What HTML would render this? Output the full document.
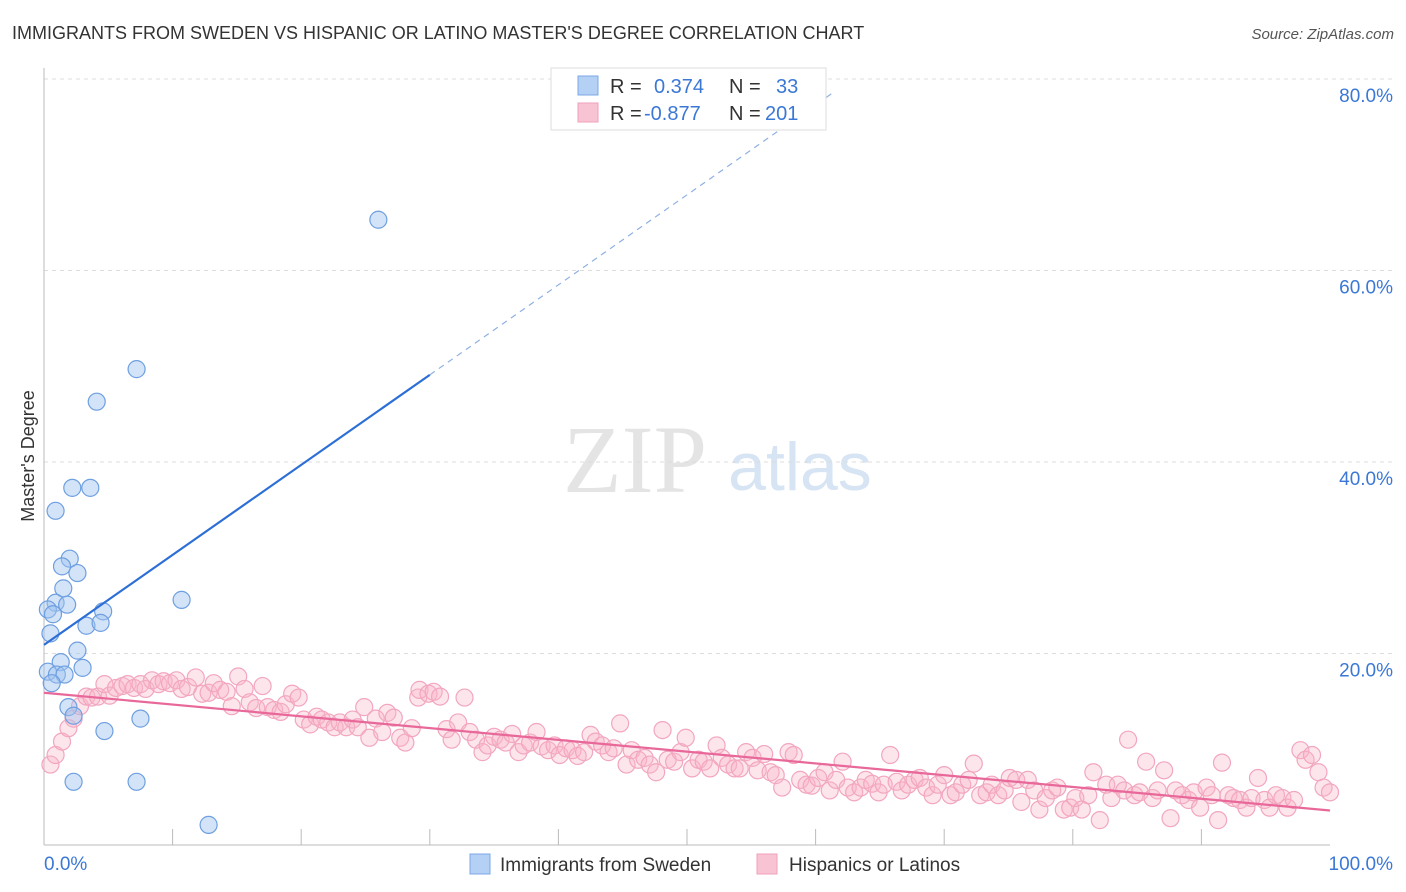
<!DOCTYPE html>
<html><head><meta charset="utf-8"><style>
body{margin:0;background:#fff;font-family:"Liberation Sans",sans-serif}
#wrap{position:relative;width:1406px;height:892px;overflow:hidden}
</style></head><body>
<div id="wrap">
<svg id="svg" width="1406" height="892" xmlns="http://www.w3.org/2000/svg">
<text x="12" y="39" font-size="18" fill="#333">IMMIGRANTS FROM SWEDEN VS HISPANIC OR LATINO MASTER'S DEGREE CORRELATION CHART</text>
<text x="1394" y="39" font-size="15" fill="#555" text-anchor="end" font-style="italic">Source: ZipAtlas.com</text>
<text x="635" y="492" font-size="96" fill="#e4e4e4" font-family="Liberation Serif" text-anchor="middle">ZIP</text>
<text x="800" y="490" font-size="68" fill="#d6e4f3" text-anchor="middle">atlas</text>
<text transform="translate(34,456) rotate(-90)" font-size="18" fill="#333" text-anchor="middle">Master's Degree</text>
<g id="grid"></g><g id="marks"></g>
<g>
<rect x="551" y="68" width="275" height="62" fill="#fff" stroke="#ddd"/>
<rect x="578" y="76" width="20" height="19" fill="#b5d0f5" stroke="#7aa9e6"/>
<rect x="578" y="103" width="20" height="19" fill="#f8c3d3" stroke="#f0a0bb"/>
<text x="610" y="93" font-size="20" fill="#333">R =</text><text x="654" y="93" font-size="20" fill="#3b78d6">0.374</text>
<text x="729" y="93" font-size="20" fill="#333">N =</text><text x="776" y="93" font-size="20" fill="#3b78d6">33</text>
<text x="610" y="120" font-size="20" fill="#333">R =</text><text x="644" y="120" font-size="20" fill="#3b78d6">-0.877</text>
<text x="729" y="120" font-size="20" fill="#333">N =</text><text x="765" y="120" font-size="20" fill="#3b78d6">201</text>
</g>
<g>
<rect x="470" y="854" width="20" height="20" fill="#b5d0f5" stroke="#7aa9e6"/>
<text x="500" y="871" font-size="19" fill="#333">Immigrants from Sweden</text>
<rect x="757" y="854" width="20" height="20" fill="#f8c3d3" stroke="#f0a0bb"/>
<text x="789" y="871" font-size="19" fill="#333">Hispanics or Latinos</text>
</g>
</svg></div>
<script>
const blueX=[26.0,7.2,4.1,2.2,3.6,0.9,2.0,1.4,2.6,1.5,0.9,1.8,0.3,0.7,4.6,10.7,3.3,4.4,0.5,2.6,1.3,3.0,0.3,1.0,1.6,0.6,1.9,2.3,7.5,4.7,2.3,7.2,12.8];
const blueY=[65.3,49.7,46.3,37.3,37.3,34.9,29.9,29.1,28.4,26.8,25.3,25.1,24.6,24.1,24.4,25.6,22.9,23.2,22.1,20.3,19.1,18.5,18.1,17.8,17.8,16.9,14.4,13.5,13.2,11.9,6.6,6.6,2.1];
const pinkX=[0.5,0.9,1.4,1.9,2.3,2.8,3.3,3.7,4.2,4.7,5.1,5.6,6.1,6.5,7.0,7.5,7.9,8.4,8.9,9.3,9.8,10.3,10.7,11.2,11.8,12.3,12.8,13.2,13.7,14.2,14.6,15.1,15.6,16.0,16.5,17.0,17.4,17.9,18.4,18.8,19.3,19.8,20.2,20.7,21.2,21.6,22.1,22.6,23.0,23.5,24.0,24.4,24.9,25.3,25.8,26.3,26.7,27.2,27.7,28.1,28.6,29.1,29.2,29.9,30.3,30.8,31.3,31.7,32.2,32.7,33.1,33.6,34.1,34.5,35.0,35.5,35.9,36.4,36.9,37.3,37.8,38.3,38.7,39.2,39.7,40.1,40.6,41.1,41.5,42.0,42.5,42.9,43.4,43.9,44.3,44.8,45.3,45.7,46.2,46.7,47.1,47.6,48.1,48.5,49.0,49.5,49.9,50.4,50.9,51.3,51.8,52.3,52.7,53.2,53.7,54.1,54.6,55.1,55.5,56.0,56.5,56.9,57.4,57.9,58.3,58.8,59.3,59.7,60.2,60.7,61.1,61.6,62.1,62.5,63.0,63.5,63.9,64.4,64.9,65.3,65.8,66.3,66.7,67.2,67.7,68.1,68.6,69.1,69.5,70.0,70.5,70.9,71.4,71.9,72.3,72.8,73.3,73.7,74.2,74.7,75.1,75.6,76.0,76.5,77.0,77.4,77.9,78.4,78.8,79.3,79.8,80.2,80.7,81.2,81.6,82.1,82.6,83.0,83.5,84.0,84.3,84.8,85.2,85.7,86.2,86.6,87.1,87.6,88.0,88.5,89.0,89.4,89.9,90.4,90.8,91.3,91.6,92.1,92.5,93.0,93.5,93.9,94.4,94.9,95.3,95.8,96.3,96.7,97.2,97.7,98.1,98.6,99.1,99.5,100];
const pinkY=[8.4,9.4,10.8,12.2,13.2,14.5,15.5,15.4,15.5,16.8,15.6,16.4,16.6,16.8,16.4,16.8,16.3,17.2,16.8,17.1,16.9,17.2,16.3,16.5,17.5,15.8,15.9,16.9,16.2,16.0,14.5,17.6,16.3,14.9,14.3,16.6,14.4,14.1,13.9,14.7,15.8,15.4,13.1,12.6,13.4,13.1,12.8,12.3,12.8,12.3,13.1,12.3,14.4,11.2,13.2,11.8,13.8,13.3,11.2,10.7,12.2,15.4,16.2,15.8,16.0,15.5,12.1,11.0,12.8,15.4,11.8,11.0,9.7,10.4,11.3,11.0,10.7,11.6,9.7,10.4,10.7,11.8,10.3,9.9,10.4,9.4,10.1,9.9,9.3,9.7,11.5,10.8,10.4,9.7,10.1,12.7,8.4,9.9,8.9,9.1,8.4,7.6,12.0,8.9,8.7,9.7,11.2,8.0,8.9,8.7,8.0,10.4,9.1,8.4,8.0,8.0,9.7,9.1,7.8,9.5,7.6,7.3,6.0,9.7,9.4,6.8,6.3,6.2,7.0,7.6,5.7,6.8,8.7,6.0,5.5,6.0,6.8,6.4,5.5,6.3,9.4,6.6,5.7,6.3,6.8,7.0,6.0,5.2,6.3,7.3,5.2,5.5,6.3,6.8,8.5,5.2,5.5,6.3,5.2,5.7,7.0,6.8,4.5,6.8,5.7,3.7,4.9,5.7,6.0,3.7,3.9,4.9,3.7,5.2,7.6,2.6,6.3,4.9,6.3,5.7,11.0,5.2,5.5,8.7,4.9,5.7,7.8,2.8,5.7,5.2,4.7,5.5,3.9,6.0,5.2,2.6,8.6,5.2,4.9,4.7,3.9,4.9,7.0,4.7,3.9,5.2,4.9,3.9,4.7,9.9,8.9,9.4,7.6,6.0,5.5];
const yTicks=[20,40,60,80];
const blueFit=[20.9,0.94]; // intercept, slope
const pinkFit=[15.9,-0.123];

const NS='http://www.w3.org/2000/svg';
const X0=44,X1=1330,Y0=845,YS=9.575;
const sx=v=>X0+v*(X1-X0)/100, sy=v=>Y0-v*YS;
function mk(t,a,p){const e=document.createElementNS(NS,t);for(const k in a)e.setAttribute(k,a[k]);p.appendChild(e);return e;}
const grid=document.getElementById('grid'),marks=document.getElementById('marks');
yTicks.forEach(t=>{
 const l=mk('line',{x1:X0,x2:1395,y1:sy(t),y2:sy(t),stroke:'#ddd','stroke-dasharray':'4,4'},grid);
 
 
 const tx=mk('text',{x:1393,y:sy(t)+23,'font-size':19,fill:'#3b78d6','text-anchor':'end'},grid);
 tx.textContent=t.toFixed(1)+'%';
 
 
});
const ax=mk('line',{x1:X0,x2:X0,y1:68,y2:Y0,stroke:'#bbb'},grid);


const bx=mk('line',{x1:X0,x2:X1,y1:Y0,y2:Y0,stroke:'#bbb'},grid);


for(let i=1;i<10;i++){const t=mk('line',{x1:sx(i*10),x2:sx(i*10),y1:829,y2:Y0,stroke:'#bbb'},grid);
 
 }
[['0.0%',44,'start'],['100.0%',1393,'end']].forEach(a=>{const t=mk('text',{x:a[1],y:870,'font-size':19,fill:'#3b78d6','text-anchor':a[2]},grid);t.textContent=a[0];
 
 });
pinkX.forEach((x,i)=>{if(pinkY[i]===undefined)return;
 const c=mk('circle',{cx:sx(x),cy:sy(pinkY[i]),r:8.5,fill:'rgba(248,180,200,0.35)',stroke:'#f2a6bf','stroke-width':1.2},marks);
 
 });
blueX.forEach((x,i)=>{
 const c=mk('circle',{cx:sx(x),cy:sy(blueY[i]),r:8.5,fill:'rgba(160,196,240,0.45)',stroke:'#6e9fe0','stroke-width':1.2},marks);
 
 });
const bf=x=>blueFit[0]+blueFit[1]*x, pf=x=>pinkFit[0]+pinkFit[1]*x;
const l1=mk('line',{x1:sx(0),y1:sy(bf(0)),x2:sx(30),y2:sy(bf(30)),stroke:'#2d6fd6','stroke-width':2.2},marks);


const l2=mk('line',{x1:sx(30),y1:sy(bf(30)),x2:sx(61.5),y2:sy(bf(61.5)),stroke:'#8fb0e3','stroke-width':1.2,'stroke-dasharray':'6,5'},marks);


const l3=mk('line',{x1:sx(0),y1:sy(pf(0)),x2:sx(100),y2:sy(pf(100)),stroke:'#e8689a','stroke-width':2.2},marks);


</script>
</body></html>
